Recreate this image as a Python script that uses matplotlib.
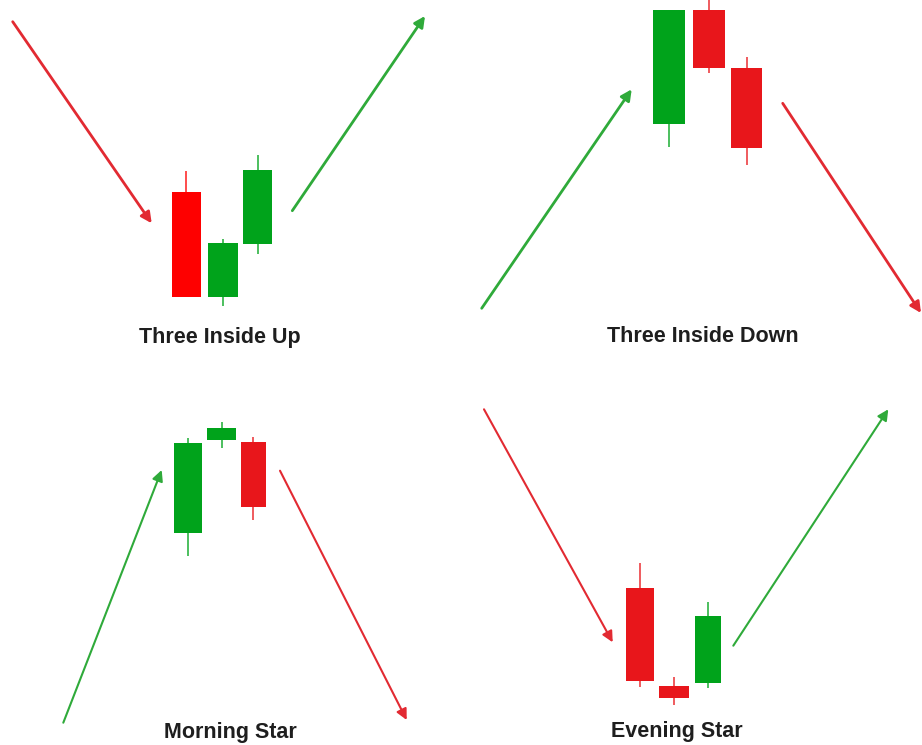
import matplotlib
matplotlib.use("Agg")
import matplotlib.pyplot as plt

# Candle data per pattern (price units, higher = up)
# Three Inside Up
tiu_x = [186.4, 223.0, 257.8]
tiu_width = [29.3, 29.4, 29.0]
tiu_open = [553.3, 447.7, 501.0]
tiu_high = [574.3, 505.7, 590.0]
tiu_low = [447.7, 439.0, 491.0]
tiu_close = [447.7, 501.7, 575.0]

# Three Inside Down
tid_x = [669.2, 709.2, 746.7]
tid_width = [31.7, 31.7, 31.3]
tid_open = [621.0, 735.0, 676.7]
tid_high = [735.0, 745.0, 688.3]
tid_low = [598.3, 671.7, 580.0]
tid_close = [735.0, 676.7, 597.3]

# "Morning Star" (label as in the picture)
ms_x = [187.8, 221.5, 253.2]
ms_width = [27.7, 28.4, 25.0]
ms_open = [212.3, 305.0, 303.3]
ms_high = [306.7, 323.3, 307.7]
ms_low = [189.3, 296.7, 225.0]
ms_close = [301.7, 316.7, 238.3]

# "Evening Star"
es_x = [640.2, 674.3, 707.9]
es_width = [28.3, 30.0, 25.7]
es_open = [156.7, 59.0, 61.7]
es_high = [181.7, 68.3, 143.3]
es_low = [57.7, 40.0, 56.7]
es_close = [64.3, 47.3, 129.0]

# Trend arrows: (start, end, direction)
trend_start = [(12.7, 723.3), (292.3, 534.3), (481.7, 436.7), (782.7, 641.7),
               (63.3, 22.3), (280.0, 274.3), (484.0, 335.7), (733.3, 99.3)]
trend_end = [(151.7, 521.7), (425.0, 729.0), (631.7, 655.7), (921.0, 432.0),
             (161.7, 275.0), (406.7, 25.0), (612.7, 102.7), (888.3, 335.7)]
trend_dir = ["down", "up", "up", "down", "up", "down", "down", "up"]

labels = ["Three Inside Up", "Three Inside Down", "Morning Star", "Evening Star"]
label_x = [220, 703, 230, 677]
label_y = [408, 408, 12.5, 13.5]

GREEN = "#00a31b"
RED = "#e8161b"
BRIGHT_RED = "#fe0000"


def draw_candles(ax, x, w, o, h, l, c, red=RED):
    for xi, wi, oi, hi, li, ci in zip(x, w, o, h, l, c):
        col = GREEN if ci >= oi else red
        ax.vlines(xi, li, hi, color=col, lw=1.4, alpha=0.7, zorder=1)
        ax.bar(xi, ci - oi, bottom=oi, width=wi, color=col, zorder=2)


fig = plt.figure(figsize=(9.22, 7.45), dpi=100)
ax = fig.add_axes([0, 0, 1, 1])
ax.set_xlim(0, 922)
ax.set_ylim(0, 745)
ax.axis("off")

draw_candles(ax, tiu_x, tiu_width, tiu_open, tiu_high, tiu_low, tiu_close, red=BRIGHT_RED)
draw_candles(ax, tid_x, tid_width, tid_open, tid_high, tid_low, tid_close)
draw_candles(ax, ms_x, ms_width, ms_open, ms_high, ms_low, ms_close)
draw_candles(ax, es_x, es_width, es_open, es_high, es_low, es_close)

# top row arrows are a bit heavier than the bottom row ones
for i, (s, e, d) in enumerate(zip(trend_start, trend_end, trend_dir)):
    col = "#2faa3a" if d == "up" else "#e22a32"
    lw = 2.0 if i < 4 else 1.5
    ax.annotate("", xy=e, xytext=s,
                arrowprops=dict(arrowstyle="-|>", color=col, lw=lw,
                                mutation_scale=16, shrinkA=0, shrinkB=0))

for t, x, y in zip(labels, label_x, label_y):
    ax.text(x, y, t, ha="center", va="center", fontsize=15.5,
            fontweight="bold", family="Liberation Sans", color="#1e1e1e")

plt.savefig("out.png", dpi=100, facecolor="white")
